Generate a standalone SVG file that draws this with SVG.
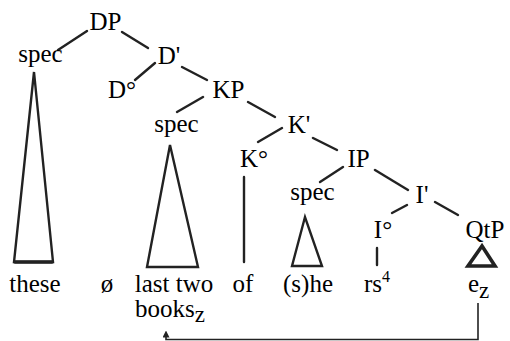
<svg xmlns="http://www.w3.org/2000/svg" width="510" height="341" viewBox="0 0 510 341" font-family="Liberation Serif, serif" font-size="25">
<defs>
<marker id="ah" viewBox="0 0 10 10" refX="5" refY="5" markerWidth="7" markerHeight="7" orient="auto" markerUnits="userSpaceOnUse">
<path d="M0,0 L10,5 L0,10 Z" fill="#222"/>
</marker>
</defs>
<rect width="510" height="341" fill="#fff"/>
<g id="connectors" stroke="#222" stroke-width="2.4" fill="none" stroke-linecap="round">
<line x1="58" y1="50" x2="87" y2="31"/>
<line x1="122" y1="32" x2="148" y2="48"/>
<line x1="135" y1="80" x2="155" y2="63"/>
<line x1="182" y1="67" x2="207" y2="80"/>
<line x1="177" y1="112" x2="203" y2="97"/>
<line x1="248" y1="102" x2="275" y2="117"/>
<line x1="282" y1="128" x2="258" y2="142"/>
<line x1="313" y1="138" x2="337" y2="150"/>
<line x1="343" y1="167" x2="320" y2="182"/>
<line x1="375" y1="170" x2="408" y2="190"/>
<line x1="407" y1="205" x2="392" y2="213"/>
<line x1="435" y1="202" x2="458" y2="215"/>
<line x1="377" y1="248" x2="377" y2="265"/>
<line x1="244" y1="177" x2="244" y2="262"/>
<polygon points="34,72 14,262 53,262" stroke-linejoin="miter"/>
<line x1="15" y1="262" x2="52" y2="262" stroke-width="3.6"/>
<polygon points="170,145 147,267 198,267" stroke-linejoin="miter"/>
<polygon points="305,217 292,266 322,266" stroke-linejoin="miter"/>
<polygon points="482,246 468,266 495,266" stroke-width="3.6" stroke-linejoin="miter"/>
<path d="M478,303 V339.5 H166 V334" stroke-width="1.6" stroke-linecap="butt" marker-end="url(#ah)"/>
</g>
<g id="DP"><text text-anchor="middle" x="105.5" y="30">DP</text></g>
<g id="spec1"><text text-anchor="middle" x="40.5" y="62">spec</text></g>
<g id="Dbar"><text text-anchor="middle" x="169" y="64">D'</text></g>
<g id="D0"><text text-anchor="middle" x="122" y="98">D°</text></g>
<g id="KP"><text text-anchor="middle" x="228.5" y="98">KP</text></g>
<g id="spec2"><text text-anchor="middle" x="176.5" y="132">spec</text></g>
<g id="Kbar"><text text-anchor="middle" x="299" y="133">K'</text></g>
<g id="K0"><text text-anchor="middle" x="254" y="167">K°</text></g>
<g id="IP"><text text-anchor="middle" x="358.5" y="167">IP</text></g>
<g id="spec3"><text text-anchor="middle" x="312.5" y="200">spec</text></g>
<g id="Ibar"><text text-anchor="middle" x="422" y="203">I'</text></g>
<g id="I0"><text text-anchor="middle" x="383" y="238">I°</text></g>
<g id="QtP"><text text-anchor="middle" x="485" y="238">QtP</text></g>
<g id="these"><text text-anchor="middle" x="35" y="292">these</text></g>
<g id="null"><text text-anchor="middle" x="107" y="292">ø</text></g>
<g id="lasttwo"><text text-anchor="middle" x="174" y="292">last two</text></g>
<g id="books"><text x="135" y="317">books<tspan dy="5" font-size="23">z</tspan></text></g>
<g id="of"><text text-anchor="middle" x="243" y="292">of</text></g>
<g id="she"><text text-anchor="middle" x="308" y="292">(s)he</text></g>
<g id="rs"><text x="364" y="292">rs<tspan dy="-10" font-size="16">4</tspan></text></g>
<g id="ez"><text x="468" y="292">e<tspan dy="6" font-size="23">z</tspan></text></g>
</svg>
